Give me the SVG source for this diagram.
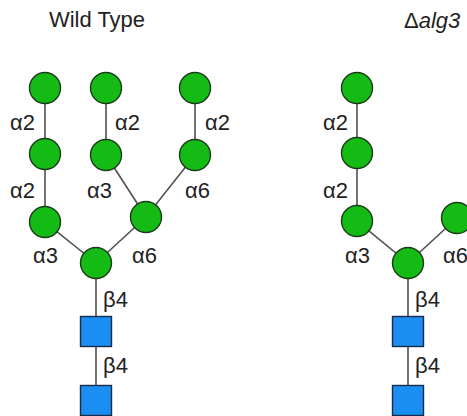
<svg xmlns="http://www.w3.org/2000/svg" width="467" height="416" viewBox="0 0 467 416">
<style>
.man{fill:#14bb14;stroke:#1a3a1a;stroke-width:1.4}
.gn{fill:#1b8ef2;stroke:#1a2a4a;stroke-width:1.4}
.ln{stroke:#505050;stroke-width:1.6;fill:none}
.lb{font-family:"Liberation Sans",Arial,sans-serif;font-size:22px;fill:#222}
.tt{font-family:"Liberation Sans",Arial,sans-serif;font-size:22px;fill:#222}
</style>
<rect width="467" height="416" fill="#fff"/>
<text class="tt" x="97" y="27" text-anchor="middle">Wild Type</text>
<text class="tt" x="404" y="28">Δ<tspan font-style="italic">alg3</tspan></text>
<g id="connectors">
<path class="ln" d="M45 88V222L96 263M106 88V155L146 217M195 88V155L146 217L96 263M96 263V400"/>
<path class="ln" d="M357 88V221L408 263M457 218L408 263M408 263V400"/>
</g>
<g id="labels">
<text class="lb" x="10" y="130">α2</text>
<text class="lb" x="115" y="130">α2</text>
<text class="lb" x="205" y="130">α2</text>
<text class="lb" x="10" y="198">α2</text>
<text class="lb" x="87" y="198">α3</text>
<text class="lb" x="185" y="198">α6</text>
<text class="lb" x="33" y="263">α3</text>
<text class="lb" x="132" y="263">α6</text>
<text class="lb" x="103" y="307">β4</text>
<text class="lb" x="103" y="373">β4</text>
<text class="lb" x="323" y="130">α2</text>
<text class="lb" x="323" y="198">α2</text>
<text class="lb" x="345" y="263">α3</text>
<text class="lb" x="443" y="263">α6</text>
<text class="lb" x="415" y="307">β4</text>
<text class="lb" x="415" y="373">β4</text>
</g>
<g id="wt-man1"><circle class="man" cx="45" cy="88" r="15.5"/></g>
<g id="wt-man2"><circle class="man" cx="45" cy="154" r="15.5"/></g>
<g id="wt-man3"><circle class="man" cx="45" cy="222" r="15.5"/></g>
<g id="wt-man4"><circle class="man" cx="106" cy="88" r="15.5"/></g>
<g id="wt-man5"><circle class="man" cx="106" cy="155" r="15.5"/></g>
<g id="wt-man6"><circle class="man" cx="195" cy="88" r="15.5"/></g>
<g id="wt-man7"><circle class="man" cx="195" cy="155" r="15.5"/></g>
<g id="wt-man8"><circle class="man" cx="146" cy="217" r="15.5"/></g>
<g id="wt-man9"><circle class="man" cx="96" cy="263" r="15.5"/></g>
<g id="wt-gn1"><rect class="gn" x="80.5" y="316.5" width="31" height="30"/></g>
<g id="wt-gn2"><rect class="gn" x="80.5" y="385.5" width="31" height="30"/></g>
<g id="d-man1"><circle class="man" cx="357" cy="88" r="15.5"/></g>
<g id="d-man2"><circle class="man" cx="357" cy="153" r="15.5"/></g>
<g id="d-man3"><circle class="man" cx="357" cy="221" r="15.5"/></g>
<g id="d-man4"><circle class="man" cx="457" cy="218" r="15.5"/></g>
<g id="d-man5"><circle class="man" cx="408" cy="263" r="15.5"/></g>
<g id="d-gn1"><rect class="gn" x="392.5" y="316.5" width="31" height="30"/></g>
<g id="d-gn2"><rect class="gn" x="392.5" y="385.5" width="31" height="30"/></g>
</svg>
